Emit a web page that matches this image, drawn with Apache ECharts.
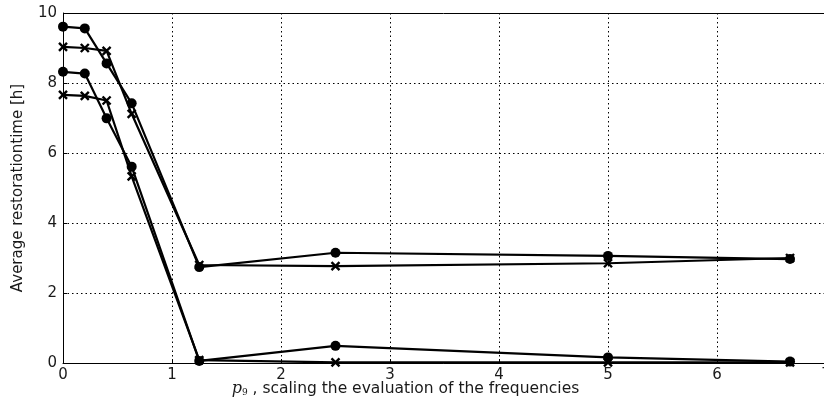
<!DOCTYPE html>
<html>
<head>
<meta charset="utf-8">
<script src="https://cdn.jsdelivr.net/npm/echarts@6/dist/echarts.min.js"></script>
<style>
html,body{margin:0;padding:0;background:#fff;}
#chart{width:824px;height:401px;}
</style>
</head>
<body>
<div id="chart"></div>
<script>
// scaling factor p9
var p9 = [0, 0.2, 0.4, 0.63, 1.25, 2.5, 5, 6.67];
// average restoration time [h] per configuration
var upperDots  = [9.61, 9.56, 8.56, 7.42, 2.74, 3.15, 3.06, 2.97];
var upperCross = [9.03, 9.00, 8.92, 7.12, 2.80, 2.77, 2.85, 3.00];
var lowerDots  = [8.32, 8.27, 6.99, 5.61, 0.06, 0.49, 0.16, 0.04];
var lowerCross = [7.66, 7.63, 7.50, 5.33, 0.08, 0.02, 0.02, 0.02];
var xTicks = [0, 1, 2, 3, 4, 5, 6, 7];
var yTicks = [0, 2, 4, 6, 8, 10];

var crossPath = 'path://M0,0L10,10M10,0L0,10';

function pairs(ys){ return p9.map(function(x,i){ return [x, ys[i]]; }); }

function mk(name, ys, marker){
  var isCross = marker === 'cross';
  return {
    name: name,
    type: 'line',
    data: pairs(ys),
    clip: true,
    symbol: isCross ? crossPath : 'circle',
    symbolSize: isCross ? 8 : 10,
    itemStyle: isCross ? {color: 'none', borderColor: '#000', borderWidth: 2.4} : {color: '#000', borderColor: '#000', borderWidth: 0},
    lineStyle: {color: '#000', width: 2.2},
    showAllSymbol: true,
    animation: false,
    z: 3
  };
}

var font = 'DejaVu Sans';
var chart = echarts.init(document.getElementById('chart'), null, {renderer: 'canvas'});
chart.setOption({
  animation: false,
  grid: {left: 63, top: 13, width: 763, height: 350, containLabel: false, outerBoundsMode: 'none', show: false},
  xAxis: {
    type: 'value', min: xTicks[0], max: xTicks[xTicks.length-1], interval: 1,
    axisLine: {show: true, lineStyle: {color: '#000', width: 1}},
    axisTick: {show: true, inside: true, length: 4, lineStyle: {color: '#000'}},
    axisLabel: {color: '#1a1a1a', fontFamily: font, fontSize: 15, margin: 5},
    splitLine: {show: true, lineStyle: {color: '#000', type: [1.5, 3], width: 1}},
    name: '{p|p}{s|9}{t| , scaling the evaluation of the frequencies}',
    nameLocation: 'middle', nameGap: 18, nameMoveOverlap: false,
    nameTextStyle: {
      padding: [0, 78, 0, 0],
      rich: {
        p: {fontFamily: 'DejaVu Serif', fontStyle: 'italic', fontSize: 16, color: '#1a1a1a'},
        s: {fontFamily: 'DejaVu Serif', fontSize: 9, color: '#1a1a1a', verticalAlign: 'bottom', padding: [6, 0, 0, 0]},
        t: {fontFamily: font, fontSize: 15.5, color: '#1a1a1a'}
      }
    }
  },
  yAxis: {
    type: 'value', min: yTicks[0], max: yTicks[yTicks.length-1], interval: 2,
    axisLine: {show: true, lineStyle: {color: '#000', width: 1}},
    axisTick: {show: true, inside: true, length: 4, lineStyle: {color: '#000'}},
    axisLabel: {color: '#1a1a1a', fontFamily: font, fontSize: 15, margin: 6},
    splitLine: {show: true, lineStyle: {color: '#000', type: [1.5, 3], width: 1}},
    name: 'Average restorationtime [h]',
    nameLocation: 'middle', nameGap: 37, nameRotate: 90, nameMoveOverlap: false,
    nameTextStyle: {fontFamily: font, fontSize: 15, color: '#1a1a1a'}
  },
  series: [
    mk('upper, dots', upperDots, 'dot'),
    mk('upper, crosses', upperCross, 'cross'),
    mk('lower, dots', lowerDots, 'dot'),
    mk('lower, crosses', lowerCross, 'cross')
  ],
  graphic: [{
    type: 'line', z: 10,
    shape: {x1: 63, y1: 13.5, x2: 824, y2: 13.5},
    style: {stroke: '#000', lineWidth: 1}
  }]
});
</script>
</body>
</html>
